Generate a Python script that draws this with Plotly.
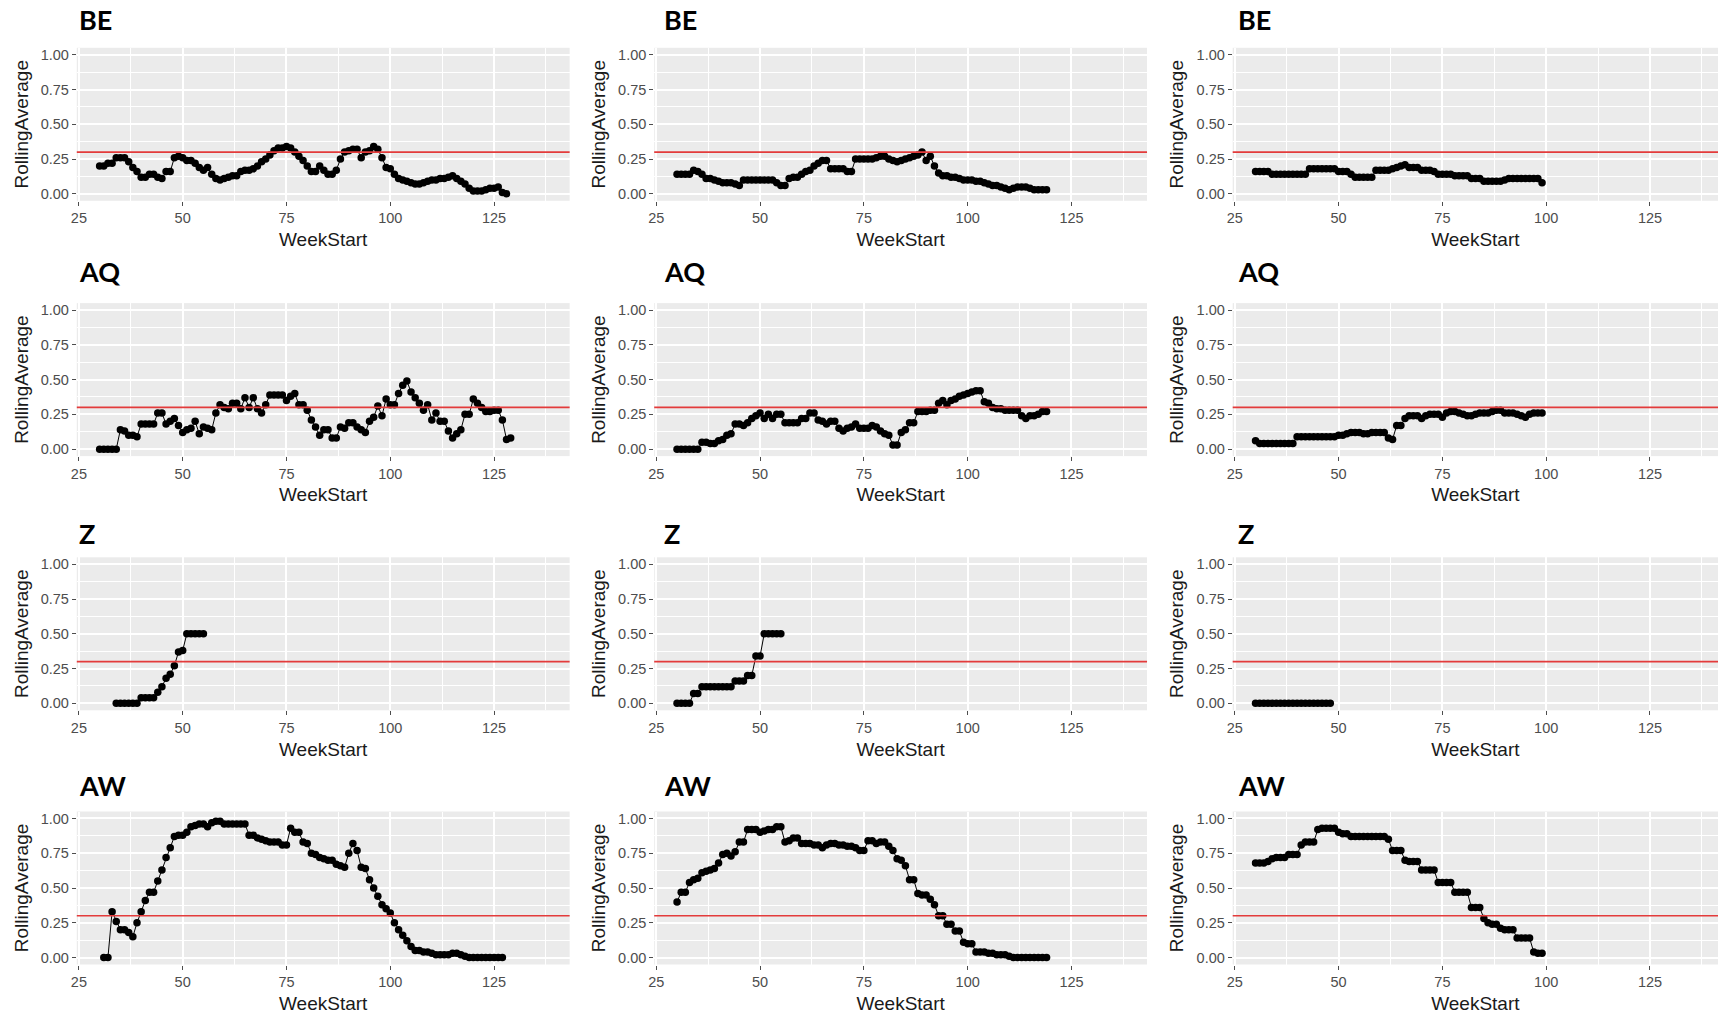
import plotly.graph_objects as go

# ---------------------------------------------------------------- data
THRESHOLD = 0.3
ROW_NAMES = ["BE", "AQ", "Z", "AW"]
X_TICKS = [25, 50, 75, 100, 125]
Y_TICKS = [0.0, 0.25, 0.5, 0.75, 1.0]
Y_TICK_TEXT = ["0.00", "0.25", "0.50", "0.75", "1.00"]
X_TITLE = "WeekStart"
Y_TITLE = "RollingAverage"

# ---- column 1
be_1_start = 30
be_1 = [0.20, 0.20, 0.22, 0.22, 0.26, 0.26, 0.26, 0.23, 0.19, 0.16,
        0.12, 0.12, 0.14, 0.14, 0.12, 0.11, 0.16, 0.16, 0.26, 0.27,
        0.26, 0.24, 0.24, 0.22, 0.19, 0.17, 0.19, 0.14, 0.11, 0.10,
        0.11, 0.12, 0.13, 0.13, 0.16, 0.17, 0.17, 0.18, 0.20, 0.23,
        0.25, 0.28, 0.31, 0.33, 0.33, 0.34, 0.33, 0.30, 0.27, 0.24,
        0.20, 0.16, 0.16, 0.20, 0.17, 0.14, 0.14, 0.17, 0.25, 0.30,
        0.31, 0.32, 0.32, 0.26, 0.30, 0.31, 0.34, 0.32, 0.26, 0.19,
        0.18, 0.14, 0.11, 0.10, 0.09, 0.08, 0.07, 0.07, 0.08, 0.09,
        0.10, 0.10, 0.11, 0.11, 0.12, 0.13, 0.11, 0.09, 0.07, 0.04,
        0.02, 0.02, 0.02, 0.03, 0.04, 0.04, 0.05, 0.01, 0.00]
aq_1_start = 30
aq_1 = [0.00, 0.00, 0.00, 0.00, 0.00, 0.14, 0.13, 0.10, 0.10, 0.09,
        0.18, 0.18, 0.18, 0.18, 0.26, 0.26, 0.18, 0.20, 0.22, 0.17,
        0.12, 0.14, 0.15, 0.20, 0.11, 0.16, 0.15, 0.14, 0.26, 0.32,
        0.30, 0.29, 0.33, 0.33, 0.29, 0.37, 0.30, 0.37, 0.29, 0.26,
        0.32, 0.39, 0.39, 0.39, 0.39, 0.35, 0.38, 0.40, 0.32, 0.32,
        0.28, 0.21, 0.16, 0.10, 0.14, 0.14, 0.08, 0.08, 0.16, 0.15,
        0.19, 0.19, 0.16, 0.14, 0.12, 0.20, 0.23, 0.31, 0.24, 0.36,
        0.32, 0.32, 0.40, 0.46, 0.49, 0.41, 0.37, 0.33, 0.28, 0.32,
        0.21, 0.26, 0.20, 0.20, 0.13, 0.08, 0.11, 0.14, 0.25, 0.25,
        0.36, 0.33, 0.30, 0.27, 0.27, 0.28, 0.28, 0.21, 0.07, 0.08]
z_1_start = 34
z_1 = [0.00, 0.00, 0.00, 0.00, 0.00, 0.00, 0.04, 0.04, 0.04, 0.04,
       0.08, 0.12, 0.18, 0.21, 0.27, 0.37, 0.38, 0.50, 0.50, 0.50,
       0.50, 0.50]
aw_1_start = 31
aw_1 = [0.00, 0.00, 0.33, 0.26, 0.20, 0.20, 0.18, 0.15, 0.25, 0.33,
        0.41, 0.47, 0.47, 0.55, 0.63, 0.72, 0.79, 0.87, 0.88, 0.88,
        0.90, 0.94, 0.95, 0.96, 0.96, 0.94, 0.97, 0.98, 0.98, 0.96,
        0.96, 0.96, 0.96, 0.96, 0.96, 0.88, 0.88, 0.86, 0.85, 0.84,
        0.83, 0.83, 0.83, 0.81, 0.81, 0.93, 0.90, 0.90, 0.83, 0.82,
        0.75, 0.74, 0.72, 0.71, 0.70, 0.70, 0.67, 0.66, 0.65, 0.75,
        0.82, 0.77, 0.65, 0.64, 0.56, 0.50, 0.44, 0.38, 0.35, 0.32,
        0.25, 0.20, 0.16, 0.12, 0.08, 0.05, 0.05, 0.04, 0.04, 0.03,
        0.02, 0.02, 0.02, 0.02, 0.03, 0.03, 0.02, 0.01, 0.00, 0.00,
        0.00, 0.00, 0.00, 0.00, 0.00, 0.00, 0.00]

# ---- column 2
be_2_start = 30
be_2 = [0.14, 0.14, 0.14, 0.14, 0.17, 0.16, 0.14, 0.11, 0.11, 0.10,
        0.09, 0.08, 0.08, 0.08, 0.07, 0.06, 0.10, 0.10, 0.10, 0.10,
        0.10, 0.10, 0.10, 0.10, 0.08, 0.06, 0.06, 0.11, 0.12, 0.12,
        0.14, 0.16, 0.17, 0.20, 0.22, 0.24, 0.24, 0.18, 0.18, 0.18,
        0.18, 0.16, 0.16, 0.25, 0.25, 0.25, 0.25, 0.25, 0.26, 0.27,
        0.27, 0.25, 0.24, 0.23, 0.24, 0.25, 0.26, 0.27, 0.28, 0.30,
        0.24, 0.27, 0.20, 0.15, 0.13, 0.13, 0.12, 0.12, 0.11, 0.10,
        0.10, 0.10, 0.09, 0.09, 0.08, 0.07, 0.06, 0.06, 0.05, 0.04,
        0.03, 0.04, 0.05, 0.05, 0.05, 0.04, 0.03, 0.03, 0.03, 0.03]
aq_2_start = 30
aq_2 = [0.00, 0.00, 0.00, 0.00, 0.00, 0.00, 0.05, 0.05, 0.04, 0.04,
        0.06, 0.07, 0.10, 0.11, 0.18, 0.18, 0.17, 0.19, 0.22, 0.24,
        0.26, 0.22, 0.25, 0.22, 0.25, 0.25, 0.19, 0.19, 0.19, 0.19,
        0.22, 0.22, 0.26, 0.26, 0.21, 0.20, 0.18, 0.20, 0.20, 0.15,
        0.13, 0.15, 0.16, 0.18, 0.15, 0.15, 0.15, 0.17, 0.16, 0.13,
        0.11, 0.10, 0.03, 0.03, 0.12, 0.14, 0.19, 0.19, 0.27, 0.27,
        0.27, 0.28, 0.28, 0.33, 0.35, 0.32, 0.35, 0.36, 0.38, 0.39,
        0.40, 0.41, 0.42, 0.42, 0.34, 0.33, 0.30, 0.29, 0.29, 0.28,
        0.28, 0.28, 0.28, 0.24, 0.22, 0.24, 0.24, 0.25, 0.27, 0.27]
z_2_start = 30
z_2 = [0.00, 0.00, 0.00, 0.00, 0.07, 0.07, 0.12, 0.12, 0.12, 0.12,
       0.12, 0.12, 0.12, 0.12, 0.16, 0.16, 0.16, 0.20, 0.20, 0.34,
       0.34, 0.50, 0.50, 0.50, 0.50, 0.50]
aw_2_start = 30
aw_2 = [0.40, 0.47, 0.47, 0.54, 0.56, 0.57, 0.61, 0.62, 0.63, 0.64,
        0.68, 0.74, 0.75, 0.73, 0.76, 0.83, 0.83, 0.92, 0.92, 0.92,
        0.90, 0.91, 0.92, 0.92, 0.94, 0.94, 0.83, 0.84, 0.86, 0.86,
        0.82, 0.82, 0.82, 0.81, 0.81, 0.79, 0.81, 0.82, 0.82, 0.81,
        0.81, 0.80, 0.80, 0.79, 0.77, 0.77, 0.84, 0.84, 0.82, 0.83,
        0.83, 0.80, 0.77, 0.71, 0.70, 0.66, 0.56, 0.56, 0.46, 0.45,
        0.45, 0.42, 0.38, 0.30, 0.30, 0.24, 0.24, 0.19, 0.19, 0.11,
        0.10, 0.10, 0.04, 0.04, 0.04, 0.03, 0.03, 0.02, 0.02, 0.02,
        0.01, 0.00, 0.00, 0.00, 0.00, 0.00, 0.00, 0.00, 0.00, 0.00]

# ---- column 3
be_3_start = 30
be_3 = [0.16, 0.16, 0.16, 0.16, 0.14, 0.14, 0.14, 0.14, 0.14, 0.14,
        0.14, 0.14, 0.14, 0.18, 0.18, 0.18, 0.18, 0.18, 0.18, 0.18,
        0.16, 0.16, 0.16, 0.14, 0.12, 0.12, 0.12, 0.12, 0.12, 0.17,
        0.17, 0.17, 0.17, 0.18, 0.19, 0.20, 0.21, 0.19, 0.19, 0.19,
        0.17, 0.17, 0.17, 0.16, 0.14, 0.14, 0.14, 0.14, 0.13, 0.13,
        0.13, 0.13, 0.11, 0.11, 0.11, 0.09, 0.09, 0.09, 0.09, 0.09,
        0.10, 0.11, 0.11, 0.11, 0.11, 0.11, 0.11, 0.11, 0.11, 0.08]
aq_3_start = 30
aq_3 = [0.06, 0.04, 0.04, 0.04, 0.04, 0.04, 0.04, 0.04, 0.04, 0.04,
        0.09, 0.09, 0.09, 0.09, 0.09, 0.09, 0.09, 0.09, 0.09, 0.09,
        0.10, 0.10, 0.11, 0.12, 0.12, 0.12, 0.11, 0.11, 0.12, 0.12,
        0.12, 0.12, 0.08, 0.07, 0.17, 0.17, 0.22, 0.24, 0.24, 0.24,
        0.22, 0.24, 0.25, 0.25, 0.25, 0.23, 0.26, 0.27, 0.27, 0.26,
        0.25, 0.24, 0.24, 0.25, 0.26, 0.26, 0.26, 0.27, 0.28, 0.28,
        0.26, 0.26, 0.26, 0.25, 0.24, 0.23, 0.25, 0.26, 0.26, 0.26]
z_3_start = 30
z_3 = [0.00, 0.00, 0.00, 0.00, 0.00, 0.00, 0.00, 0.00, 0.00, 0.00,
       0.00, 0.00, 0.00, 0.00, 0.00, 0.00, 0.00, 0.00, 0.00]
aw_3_start = 30
aw_3 = [0.68, 0.68, 0.68, 0.69, 0.71, 0.72, 0.72, 0.72, 0.74, 0.74,
        0.74, 0.81, 0.83, 0.83, 0.83, 0.92, 0.93, 0.93, 0.93, 0.93,
        0.90, 0.89, 0.89, 0.87, 0.87, 0.87, 0.87, 0.87, 0.87, 0.87,
        0.87, 0.87, 0.85, 0.77, 0.77, 0.77, 0.70, 0.69, 0.69, 0.69,
        0.63, 0.63, 0.63, 0.63, 0.54, 0.54, 0.54, 0.54, 0.47, 0.47,
        0.47, 0.47, 0.36, 0.36, 0.36, 0.28, 0.25, 0.24, 0.24, 0.21,
        0.20, 0.20, 0.20, 0.14, 0.14, 0.14, 0.14, 0.04, 0.03, 0.03]

PANELS = [  # rows x columns
    [(be_1_start, be_1), (be_2_start, be_2), (be_3_start, be_3)],
    [(aq_1_start, aq_1), (aq_2_start, aq_2), (aq_3_start, aq_3)],
    [(z_1_start, z_1), (z_2_start, z_2), (z_3_start, z_3)],
    [(aw_1_start, aw_1), (aw_2_start, aw_2), (aw_3_start, aw_3)],
]

# ---------------------------------------------------------------- layout geometry (pixels)
W, H = 1718, 1015
COL_LEFT = [76.8, 654.2, 1232.7]
PX_PER_WEEK = 4.152
X_LO, X_HI = 24.5, 143.2
ROW_TOP = [47.8, 303.1, 557.3, 811.5]
PANEL_H = 153.0
TITLE_Y = [19.7, 271.7, 533.6, 785.6]
TITLE_X = [77.0, 662.0, 1236.0]

BG = "#EBEBEB"
TICK_FONT = dict(family="Liberation Sans, Arial, sans-serif", size=14.5, color="#4D4D4D")
TITLE_FONT = dict(family="Liberation Sans, Arial, sans-serif", size=19, color="#1A1A1A")

fig = go.Figure()
layout = dict(
    width=W, height=H,
    margin=dict(l=0, r=0, t=0, b=0, pad=0),
    paper_bgcolor="white", plot_bgcolor=BG,
    showlegend=False,
    annotations=[], shapes=[],
)

idx = 0
for r in range(4):
    for c in range(3):
        idx += 1
        sfx = "" if idx == 1 else str(idx)
        start, vals = PANELS[r][c]
        weeks = list(range(start, start + len(vals)))
        fig.add_trace(go.Scatter(
            x=weeks, y=vals, mode="lines+markers",
            line=dict(color="black", width=1),
            marker=dict(color="black", size=7.5),
            xaxis="x" + sfx, yaxis="y" + sfx, hoverinfo="skip",
        ))

        left = COL_LEFT[c]
        right = min(left + (X_HI - X_LO) * PX_PER_WEEK, W)
        x_hi = X_LO + (right - left) / PX_PER_WEEK
        top = ROW_TOP[r]
        bottom = top + PANEL_H

        layout["xaxis" + sfx] = dict(
            domain=[left / W, right / W], anchor="y" + sfx,
            range=[X_LO, x_hi], tickvals=X_TICKS, ticktext=[str(v) for v in X_TICKS],
            showgrid=True, gridcolor="white", gridwidth=1.6,
            minor=dict(tickvals=[37.5, 62.5, 87.5, 112.5, 137.5], showgrid=True,
                       gridcolor="white", gridwidth=0.8, ticks=""),
            zeroline=False, showline=False,
            ticks="outside", ticklen=4, tickwidth=1, tickcolor="#4D4D4D",
            tickfont=TICK_FONT, automargin=False, fixedrange=True,
            title=dict(text=X_TITLE, font=TITLE_FONT, standoff=7),
        )
        layout["yaxis" + sfx] = dict(
            domain=[1 - bottom / H, 1 - top / H], anchor="x" + sfx,
            range=[-0.05, 1.05], tickvals=Y_TICKS, ticktext=Y_TICK_TEXT,
            showgrid=True, gridcolor="white", gridwidth=1.6,
            minor=dict(tickvals=[0.125, 0.375, 0.625, 0.875], showgrid=True,
                       gridcolor="white", gridwidth=0.8, ticks=""),
            zeroline=False, showline=False,
            ticks="outside", ticklen=4, tickwidth=1, tickcolor="#4D4D4D",
            tickfont=TICK_FONT, automargin=False, fixedrange=True,
            title=dict(text=Y_TITLE, font=TITLE_FONT, standoff=7),
        )
        layout["shapes"].append(dict(
            type="line", xref="x" + sfx + " domain", yref="y" + sfx,
            x0=0, x1=1, y0=THRESHOLD, y1=THRESHOLD,
            line=dict(color="#E33B3B", width=1.6), layer="above",
        ))
        layout["annotations"].append(dict(
            text="<b>" + ROW_NAMES[r] + "</b>", xref="paper", yref="paper",
            x=TITLE_X[c] / W, y=1 - TITLE_Y[r] / H,
            xanchor="left", yanchor="middle", showarrow=False,
            font=dict(family="Lato, Open Sans, sans-serif", size=27, color="black"),
        ))

fig.update_layout(**layout)
fig.write_html("out.html")
